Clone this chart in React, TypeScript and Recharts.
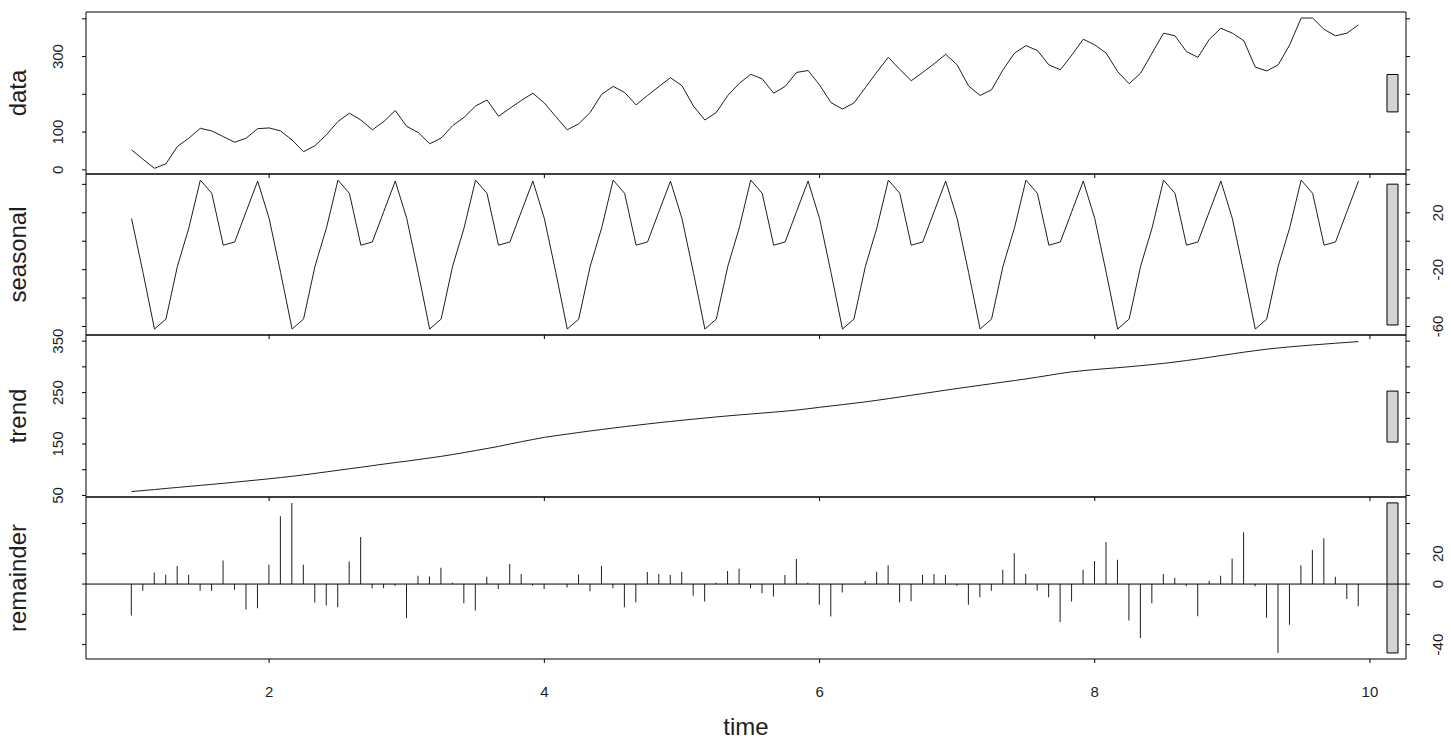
import React from "react";
import {
  ComposedChart,
  Line,
  Bar,
  XAxis,
  YAxis,
  ReferenceLine,
  ReferenceArea,
} from "recharts";

// monthly series, start = 1, frequency = 12
const START = 1;
const FREQ = 12;

const dataValues = [
  53, 28, 4, 16, 62, 84, 110, 103, 88, 73, 84, 109,
  111, 103, 79, 48, 64, 93, 128, 150, 132, 106, 128, 157,
  115, 99, 69, 84, 117, 139, 169, 185, 142, 163, 184, 203,
  177, 141, 106, 122, 152, 200, 221, 205, 172, 197, 221, 244,
  223, 169, 132, 152, 197, 229, 253, 241, 203, 221, 258, 263,
  225, 178, 161, 177, 218, 259, 298, 266, 236, 258, 281, 306,
  278, 222, 197, 212, 265, 309, 329, 316, 278, 265, 304, 346,
  331, 309, 260, 228, 256, 309, 362, 355, 313, 298, 346, 375,
  362, 342, 272, 262, 278, 331, 402, 402, 372, 355, 362, 384,
];

const seasonalValues = [
  16, -22, -61.8, -54.8, -17.6, 9.4, 43, 33.7, -2.8, -0.5, 21, 42.3,
  16, -22, -61.8, -54.8, -17.6, 9.4, 43, 33.7, -2.8, -0.5, 21, 42.3,
  16, -22, -61.8, -54.8, -17.6, 9.4, 43, 33.7, -2.8, -0.5, 21, 42.3,
  16, -22, -61.8, -54.8, -17.6, 9.4, 43, 33.7, -2.8, -0.5, 21, 42.3,
  16, -22, -61.8, -54.8, -17.6, 9.4, 43, 33.7, -2.8, -0.5, 21, 42.3,
  16, -22, -61.8, -54.8, -17.6, 9.4, 43, 33.7, -2.8, -0.5, 21, 42.3,
  16, -22, -61.8, -54.8, -17.6, 9.4, 43, 33.7, -2.8, -0.5, 21, 42.3,
  16, -22, -61.8, -54.8, -17.6, 9.4, 43, 33.7, -2.8, -0.5, 21, 42.3,
  16, -22, -61.8, -54.8, -17.6, 9.4, 43, 33.7, -2.8, -0.5, 21, 42.3,
];

const trendValues = [
  57.6, 59.5, 61.5, 63.6, 65.6, 67.6, 69.6, 71.6, 73.6, 75.8, 78.0, 80.2,
  82.4, 84.8, 87.3, 90.0, 92.9, 95.9, 98.9, 101.9, 104.8, 107.9, 111.0, 114.0,
  116.7, 119.8, 122.9, 126.0, 129.6, 133.4, 137.3, 141.3, 145.4, 150.0, 154.5, 158.8,
  163.0, 166.2, 169.3, 172.4, 175.4, 178.3, 181.1, 183.8, 186.4, 189.0, 191.5, 193.9,
  196.2, 198.4, 200.6, 202.7, 204.7, 206.6, 208.4, 210.2, 212.0, 213.9, 216.0, 218.6,
  221.4, 224.0, 226.6, 229.2, 232.0, 235.0, 238.2, 241.5, 244.8, 248.1, 251.4, 254.7,
  258.0, 261.1, 264.2, 267.3, 270.4, 273.5, 276.6, 280.0, 283.6, 287.2, 290.3, 292.7,
  294.8, 296.6, 298.4, 300.3, 302.3, 304.5, 306.8, 309.5, 312.4, 315.4, 318.7, 322.0,
  325.3, 328.6, 331.6, 334.4, 336.8, 338.9, 340.8, 342.6, 344.3, 346.0, 347.6, 349.2,
];

const remainderValues = [
  -20.8, -4.4, 7.7, 6.1, 12.0, 6.1, -4.4, -4.4, 15.5, -3.7, -16.8, -16.0,
  12.7, 44.8, 53.6, 12.7, -12.2, -14.2, -15.3, 14.9, 31.0, -2.8, -2.8, -1.1,
  -22.5, 5.5, 5.0, 10.7, 0.9, -12.7, -17.5, 4.8, -3.3, 13.3, 6.6, -1.1,
  -3.3, 0, -2.2, 6.3, -4.8, 12.0, -2.8, -15.3, -12.0, 7.9, 6.6, 5.9,
  8.1, -7.7, -11.6, 0.9, 8.7, 10.1, -2.8, -6.1, -8.3, 5.9, 16.6, 0.9,
  -13.6, -21.4, -5.5, 0, 2.0, 8.1, 12.5, -12.0, -11.4, 5.9, 6.6, 5.9,
  -1.1, -13.6, -8.7, -4.4, 9.4, 20.3, 6.6, -4.2, -8.7, -25.1, -11.6, 9.4,
  15.3, 27.8, 16.0, -24.0, -35.6, -12.7, 6.6, 4.2, -1.5, -21.2, 2.2, 5.5,
  16.8, 34.3, -1.5, -22.3, -45.5, -26.9, 12.5, 22.5, 30.2, 4.8, -9.8, -14.6,
];

const timeTicks = [2, 4, 6, 8, 10];

const dataTicks = [0, 100, 200, 300, 400];
const dataTickLabels = [0, 100, 300];
const seasonalTicks = [-60, -40, -20, 0, 20, 40];
const seasonalTickLabels = [-60, -20, 20];
const trendTicks = [50, 100, 150, 200, 250, 300, 350];
const trendTickLabels = [50, 150, 250, 350];
const remainderTicks = [-40, -20, 0, 20, 40];
const remainderTickLabels = [-40, 0, 20];

const rows = dataValues.map((v, i) => ({
  t: START + i / FREQ,
  data: v,
  seasonal: seasonalValues[i],
  trend: trendValues[i],
  remainder: remainderValues[i],
}));

const W = 1451;
const H = 750;
const PLOT_LEFT = 86;
const PLOT_RIGHT = 1406;
const X_DOMAIN: [number, number] = [0.669, 10.262];
const RANGE_BAR_X: [number, number] = [10.124, 10.204];
const FONT = '"Liberation Sans", Arial, sans-serif';
const INK = "#1e1e1e";

// every grey bar has the height of the remainder's range
const remMin = Math.min(...remainderValues);
const remMax = Math.max(...remainderValues);
const rangeHeight = remMax - remMin;

function rangeBar(values: number[]): [number, number] {
  const mid = (Math.min(...values) + Math.max(...values)) / 2;
  return [mid - rangeHeight / 2, mid + rangeHeight / 2];
}

type PanelCfg = {
  key: "data" | "seasonal" | "trend" | "remainder";
  top: number;
  height: number;
  domain: [number, number];
  ticks: number[];
  labels: number[];
  labelSide: "left" | "right";
  values: number[];
};

const panels: PanelCfg[] = [
  { key: "data", top: 12, height: 162, domain: [-11, 418], ticks: dataTicks, labels: dataTickLabels, labelSide: "left", values: dataValues },
  { key: "seasonal", top: 174, height: 161, domain: [-66, 47.3], ticks: seasonalTicks, labels: seasonalTickLabels, labelSide: "right", values: seasonalValues },
  { key: "trend", top: 335, height: 162, domain: [47, 362], ticks: trendTicks, labels: trendTickLabels, labelSide: "left", values: trendValues },
  { key: "remainder", top: 497, height: 162, domain: [-49.5, 57.5], ticks: remainderTicks, labels: remainderTickLabels, labelSide: "right", values: remainderValues },
];

const yTick = (side: "left" | "right", labels: number[], show: boolean) => (props: any) => {
  const { y, payload } = props;
  if (!show || !labels.includes(payload.value)) return <g />;
  const bx = side === "left" ? PLOT_LEFT - 23 : PLOT_RIGHT + 37.5;
  return (
    <text
      x={bx}
      y={y}
      transform={`rotate(-90 ${bx} ${y})`}
      textAnchor="middle"
      fontSize={15}
      fontFamily={FONT}
      fill={INK}
    >
      {payload.value}
    </text>
  );
};

function Panel({ cfg, isLast }: { cfg: PanelCfg; isLast: boolean }) {
  const mTop = 12;
  const mBottom = isLast ? 0 : 16;
  const xAxisH = isLast ? H - (cfg.top + cfg.height) : 8;
  const chartH = mTop + cfg.height + xAxisH + mBottom;
  const chartTop = cfg.top - mTop;
  const [b1, b2] = rangeBar(cfg.values);

  const xTick = (props: any) => {
    if (!isLast) return <g />;
    return (
      <text x={props.x} y={696.5 - chartTop} textAnchor="middle" fontSize={15} fontFamily={FONT} fill={INK}>
        {props.payload.value}
      </text>
    );
  };

  return (
    <div style={{ position: "absolute", left: 0, top: chartTop }}>
      <ComposedChart
        width={W}
        height={chartH}
        data={rows}
        margin={{ top: mTop, right: 0, bottom: mBottom, left: 0 }}
        style={{ overflow: "visible" }}
      >
        <XAxis
          type="number"
          dataKey="t"
          domain={X_DOMAIN}
          ticks={timeTicks}
          interval={0}
          allowDataOverflow
          height={xAxisH}
          tickSize={4}
          axisLine={{ stroke: "#000" }}
          tickLine={{ stroke: "#000" }}
          tick={xTick}
          label={
            isLast
              ? {
                  content: () => (
                    <text x={(PLOT_LEFT + PLOT_RIGHT) / 2} y={735 - chartTop} textAnchor="middle" fontSize={24} fontFamily={FONT} fill={INK}>
                      time
                    </text>
                  ),
                }
              : undefined
          }
        />
        <YAxis
          yAxisId="L"
          orientation="left"
          type="number"
          width={PLOT_LEFT}
          domain={cfg.domain}
          ticks={cfg.ticks}
          interval={0}
          allowDataOverflow
          tickSize={4}
          axisLine={{ stroke: "#000" }}
          tickLine={{ stroke: "#000" }}
          tick={yTick("left", cfg.labels, cfg.labelSide === "left")}
          label={{
            content: () => (
              <text
                x={26}
                y={mTop + cfg.height / 2}
                transform={`rotate(-90 26 ${mTop + cfg.height / 2})`}
                textAnchor="middle"
                fontSize={24}
                fontFamily={FONT}
                fill={INK}
              >
                {cfg.key}
              </text>
            ),
          }}
        />
        <YAxis
          yAxisId="R"
          orientation="right"
          type="number"
          width={W - PLOT_RIGHT}
          domain={cfg.domain}
          ticks={cfg.ticks}
          interval={0}
          allowDataOverflow
          tickSize={4}
          axisLine={{ stroke: "#000" }}
          tickLine={{ stroke: "#000" }}
          tick={yTick("right", cfg.labels, cfg.labelSide === "right")}
        />
        <ReferenceLine yAxisId="L" y={cfg.domain[1]} stroke="#000" />
        {cfg.key === "remainder" ? (
          <>
            <ReferenceLine yAxisId="L" y={0} stroke="#000" />
            <Bar yAxisId="L" dataKey="remainder" barSize={1} fill={INK} isAnimationActive={false} />
          </>
        ) : (
          <Line
            yAxisId="L"
            type="linear"
            dataKey={cfg.key}
            stroke={INK}
            strokeWidth={1}
            dot={false}
            activeDot={false}
            isAnimationActive={false}
          />
        )}
        <ReferenceArea
          yAxisId="L"
          x1={RANGE_BAR_X[0]}
          x2={RANGE_BAR_X[1]}
          y1={b1}
          y2={b2}
          fill="#d3d3d3"
          fillOpacity={1}
          stroke="#000"
          strokeWidth={1}
        />
      </ComposedChart>
    </div>
  );
}

export default function App() {
  return (
    <div style={{ position: "absolute", left: 0, top: 0, width: W, height: H, background: "#fff" }}>
      {panels.map((p, i) => (
        <Panel key={p.key} cfg={p} isLast={i === panels.length - 1} />
      ))}
    </div>
  );
}
